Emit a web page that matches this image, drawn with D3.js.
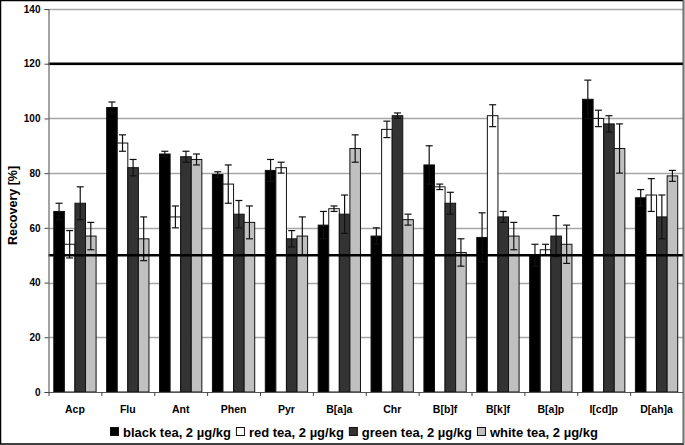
<!DOCTYPE html>
<html>
<head>
<meta charset="utf-8">
<script src="https://cdn.jsdelivr.net/npm/d3@7"></script>
<style>
  html, body { margin: 0; padding: 0; background: #fff; }
  svg { display: block; }
  text { font-family: Arial, "Liberation Sans", sans-serif; font-weight: bold; fill: #000; }
</style>
</head>
<body>
<script>
const categories = ["Acp","Flu","Ant","Phen","Pyr","B[a]a","Chr","B[b]f","B[k]f","B[a]p","I[cd]p","D[ah]a"];
const seriesNames = ["black tea, 2 µg/kg","red tea, 2 µg/kg","green tea, 2 µg/kg","white tea, 2 µg/kg"];
const blackTea = [66, 104, 87, 79.5, 81, 61, 57, 83, 56.5, 50, 107, 71];
const blackErr = [3, 2, 1, 1, 4, 5, 3, 7, 9, 4, 7, 3];
const redTea   = [54, 91, 64, 76, 82, 67, 96, 75, 101, 52, 100, 72];
const redErr   = [5, 3, 4, 7, 2, 1, 3, 1, 4, 2, 3, 6];
const greenTea = [69, 82, 86, 65, 56, 65, 101, 69, 64, 57, 98, 64];
const greenErr = [6, 3, 2, 5, 3, 7, 1, 4, 2, 7.5, 3, 8];
const whiteTea = [57, 56, 85, 62, 57, 89, 63, 51, 57, 54, 89, 79];
const whiteErr = [5, 8, 2, 6, 7, 5, 2, 5, 5, 7, 9, 2];
const yTicks = [0, 20, 40, 60, 80, 100, 120, 140];
const refLines = [120, 50];

const W = 685, H = 445;
const margin = { left: 48.5, right: 2, top: 9, bottom: 53 };
const svg = d3.select("body").append("svg").attr("width", W).attr("height", H);

const x0 = d3.scaleBand().domain(categories).range([margin.left, W - margin.right]).paddingInner(0).paddingOuter(0);
const x1 = d3.scaleBand().domain(d3.range(4)).range([0, x0.bandwidth()]).paddingInner(0).paddingOuter(0.5);
const y = d3.scaleLinear().domain([0, 140]).range([H - margin.bottom, margin.top]);

const fills = ["#000000", "#ffffff", "#333333", "#c0c0c0"];
const vals = [blackTea, redTea, greenTea, whiteTea];
const errs = [blackErr, redErr, greenErr, whiteErr];

// gridlines
svg.append("g").selectAll("line").data(yTicks.filter(d => d > 0)).join("line")
  .attr("x1", margin.left).attr("x2", W - margin.right)
  .attr("y1", d => Math.round(y(d)) + 0.5).attr("y2", d => Math.round(y(d)) + 0.5)
  .attr("stroke", "#a6a6a6").attr("stroke-width", 1.5);

// bars
const groups = svg.append("g").selectAll("g").data(categories).join("g")
  .attr("transform", d => `translate(${x0(d)},0)`);
groups.each(function(cat, ci) {
  const g = d3.select(this);
  for (let s = 0; s < 4; s++) {
    const v = vals[s][ci];
    g.append("rect")
      .attr("x", x1(s)).attr("width", x1.bandwidth())
      .attr("y", y(v)).attr("height", y(0) - y(v))
      .attr("fill", fills[s]).attr("stroke", "#111").attr("stroke-width", 1);
  }
});

// reference lines
svg.append("g").selectAll("line").data(refLines).join("line")
  .attr("x1", margin.left).attr("x2", W - margin.right)
  .attr("y1", d => y(d)).attr("y2", d => y(d))
  .attr("stroke", "#000").attr("stroke-width", 2.6);

// error bars
groups.each(function(cat, ci) {
  const g = d3.select(this);
  for (let s = 0; s < 4; s++) {
    const v = vals[s][ci], e = errs[s][ci];
    const cx = x1(s) + x1.bandwidth() / 2;
    const cap = 3.5;
    g.append("line").attr("x1", cx).attr("x2", cx).attr("y1", y(v - e)).attr("y2", y(v + e))
      .attr("stroke", "#111").attr("stroke-width", 1.2);
    [v - e, v + e].forEach(t => {
      g.append("line").attr("x1", cx - cap).attr("x2", cx + cap).attr("y1", y(t)).attr("y2", y(t))
        .attr("stroke", "#111").attr("stroke-width", 1.2);
    });
  }
});

// y axis
const yAxis = svg.append("g").attr("transform", `translate(${margin.left},0)`)
  .call(d3.axisLeft(y).tickValues(yTicks).tickSize(4).tickPadding(4));
yAxis.select(".domain").attr("stroke", "#666").attr("stroke-width", 1.2);
yAxis.selectAll(".tick line").attr("stroke", "#444");
yAxis.selectAll(".tick text").style("font-size", "10px").style("font-family", "Arial, 'Liberation Sans', sans-serif").style("font-weight", "bold").attr("fill", "#000");

// x axis
const xAxis = svg.append("g").attr("transform", `translate(0,${y(0)})`)
  .call(d3.axisBottom(x0).tickSize(0).tickPadding(14));
xAxis.select(".domain").attr("stroke", "#555").attr("stroke-width", 1.2);
xAxis.selectAll(".tick text").style("font-size", "10.5px").style("font-family", "Arial, 'Liberation Sans', sans-serif").style("font-weight", "bold").attr("fill", "#000");
// boundary ticks
svg.append("g").selectAll("line").data(categories).join("line")
  .attr("x1", d => x0(d) + 0.5).attr("x2", d => x0(d) + 0.5)
  .attr("y1", y(0)).attr("y2", y(0) + 4)
  .attr("stroke", "#444").attr("stroke-width", 1);

// y axis title
svg.append("text").attr("transform", `translate(16.5,${(y(0) + y(140)) / 2 + 5}) rotate(-90)`)
  .attr("text-anchor", "middle").style("font-size", "12.5px").text("Recovery [%]");

// legend
const legend = svg.append("g");
let lx = 110;
const ly = 437;
seriesNames.forEach((name, i) => {
  legend.append("rect").attr("x", lx + 0.5).attr("y", ly - 9.5).attr("width", 8).attr("height", 8)
    .attr("fill", fills[i]).attr("stroke", "#111").attr("stroke-width", 1);
  const t = legend.append("text").attr("x", lx + 13).attr("y", ly).style("font-size", "13px").text(name);
  lx += 13 + t.node().getComputedTextLength() + 5;
});

// outer frame
svg.append("rect").attr("x", 0.5).attr("y", 0.5).attr("width", W - margin.right).attr("height", H - 1.5)
  .attr("fill", "none").attr("stroke", "#000").attr("stroke-width", 1.5);
svg.append("line").attr("x1", W - margin.right + 0.5).attr("x2", W - margin.right + 0.5)
  .attr("y1", 0).attr("y2", H - 1).attr("stroke", "#777").attr("stroke-width", 1.5);
</script>
</body>
</html>
